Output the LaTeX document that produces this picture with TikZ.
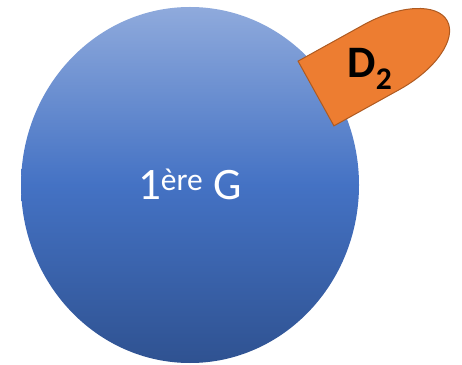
\documentclass[tikz,border=0pt]{standalone}
\usepackage{fontspec}
\setmainfont{Carlito}
\usepackage{xcolor}
\usepackage{tikz}
\usetikzlibrary{shapes.geometric}
\definecolor{blueTop}{HTML}{8FAADC}
\definecolor{blueMid}{HTML}{4472C4}
\definecolor{blueBot}{HTML}{2F5291}
\definecolor{orangeFill}{HTML}{ED7D31}
\definecolor{orangeLine}{HTML}{AE5A21}

\begin{document}
\begin{tikzpicture}[x=1pt,y=1pt,
    classe/.style={ellipse,minimum width=338pt,minimum height=356pt,inner sep=0pt,
        top color=blueTop,bottom color=blueBot,middle color=blueMid,text=white},
    groupe/.style={fill=orangeFill,draw=orangeLine,line width=1pt,line join=miter}]
    \useasboundingbox (0,0) rectangle (462,364);

    % Big circle
    \node[classe] (g1) at (190,179) {};
    \node[text=white,font=\fontsize{45}{50}\selectfont] (g1txt) at (190,180)
        {1\textsuperscript{ère} G};

    % Orange tab
    \begin{scope}[shift={(316,270.5)},rotate=29]
        \draw[groupe] (0,-37) -- (75,-37)
            arc[start angle=-90,end angle=90,x radius=75,y radius=37]
            -- (0,37) -- cycle;
    \end{scope}
    \node[font=\bfseries\fontsize{45}{50}\selectfont] (d2) at (370,295)
        {D\textsubscript{2}};
\end{tikzpicture}
\end{document}
